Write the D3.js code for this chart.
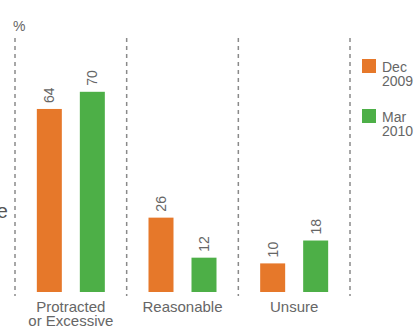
<!DOCTYPE html>
<html>
<head>
<meta charset="utf-8">
<script src="https://cdn.jsdelivr.net/npm/d3@7"></script>
<style>
  html, body { margin: 0; padding: 0; background: #fff; }
  svg { display: block; font-family: "Liberation Sans", Arial, sans-serif; }
</style>
</head>
<body>
<svg id="chart" width="415" height="333"></svg>
<script>
// Survey responses by category, two survey waves
const categories = ["Protracted\nor Excessive", "Reasonable", "Unsure"];
const seriesNames = ["Dec\n2009", "Mar\n2010"];
const dec2009 = [64, 26, 10];
const mar2010 = [70, 12, 18];
const colors = ["#E6782A", "#4DAF47"];

const svg = d3.select("#chart");
const textColor = "#666";

// Scales
const x = d3.scaleBand().domain(categories).range([15, 350]).paddingInner(0).paddingOuter(0);
const xInner = d3.scaleBand().domain([0, 1]).range([0, 68]).paddingInner(18 / 43).paddingOuter(0);
const y = d3.scaleLinear().domain([0, 80]).range([292, 292 - 80 * 2.86]);

// Partially visible axis title at far left
svg.append("text")
  .attr("x", 8).attr("y", 218)
  .attr("text-anchor", "end")
  .attr("font-size", 20)
  .attr("fill", "#555")
  .text("Response");

// Unit label
svg.append("text")
  .attr("x", 13).attr("y", 31)
  .attr("font-size", 14)
  .attr("fill", textColor)
  .text("%");

// Dashed separators between categories
const sepX = [x.range()[0]].concat(categories.map(c => x(c) + x.bandwidth()));
svg.append("g").selectAll("line").data(sepX).join("line")
  .attr("x1", d => d).attr("x2", d => d)
  .attr("y1", 38).attr("y2", 296)
  .attr("stroke", "#8a8a8a")
  .attr("stroke-width", 1.5)
  .attr("stroke-dasharray", "4,4");

// Bars and value labels
const rows = [];
categories.forEach((c, i) => {
  [dec2009[i], mar2010[i]].forEach((v, s) => rows.push({ c, s, v }));
});
const groupOffset = (x.bandwidth() - xInner.range()[1]) / 2;

svg.append("g").selectAll("rect").data(rows).join("rect")
  .attr("x", d => x(d.c) + groupOffset + xInner(d.s))
  .attr("width", xInner.bandwidth())
  .attr("y", d => y(d.v))
  .attr("height", d => y(0) - y(d.v))
  .attr("fill", d => colors[d.s]);

svg.append("g").selectAll("text").data(rows).join("text")
  .attr("transform", d => {
    const cx = x(d.c) + groupOffset + xInner(d.s) + xInner.bandwidth() / 2;
    return `translate(${cx},${y(d.v) - 6}) rotate(-90)`;
  })
  .attr("dy", "0.36em")
  .attr("font-size", 14)
  .attr("fill", textColor)
  .text(d => d.v);

// Category labels
const catLabels = svg.append("g").selectAll("text").data(categories).join("text")
  .attr("x", d => x(d) + x.bandwidth() / 2)
  .attr("y", 312)
  .attr("text-anchor", "middle")
  .attr("font-size", 15)
  .attr("fill", textColor);
catLabels.selectAll("tspan").data(d => d.split("\n")).join("tspan")
  .attr("x", function () { return d3.select(this.parentNode).attr("x"); })
  .attr("dy", (d, i) => i === 0 ? 0 : 14)
  .text(d => d);

// Legend
const legend = svg.append("g").selectAll("g").data(seriesNames).join("g")
  .attr("transform", (d, i) => `translate(362,${59 + i * 50})`);
legend.append("rect")
  .attr("width", 14).attr("height", 14)
  .attr("fill", (d, i) => colors[i]);
const legText = legend.append("text")
  .attr("x", 20).attr("y", 13)
  .attr("font-size", 14)
  .attr("fill", textColor);
legText.selectAll("tspan").data(d => d.split("\n")).join("tspan")
  .attr("x", 20)
  .attr("dy", (d, i) => i === 0 ? 0 : 14)
  .text(d => d);
</script>
</body>
</html>
